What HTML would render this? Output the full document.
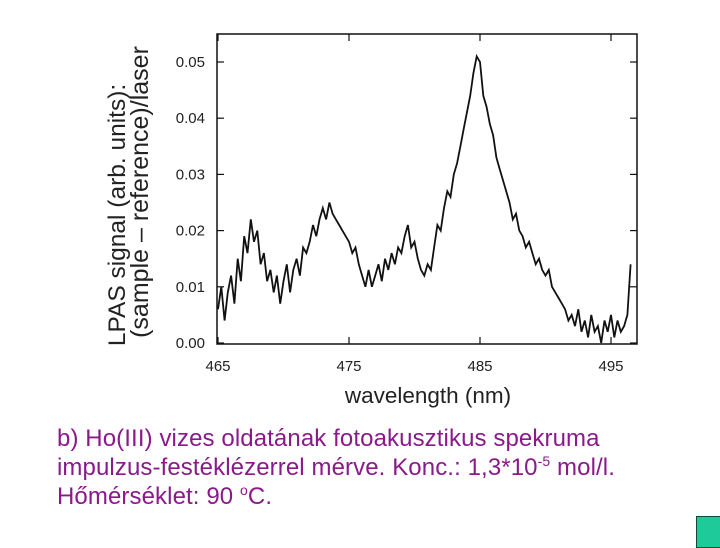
<!DOCTYPE html>
<html><head><meta charset="utf-8"><style>
body{margin:0;width:720px;height:540px;background:#fff;position:relative;overflow:hidden;font-family:"Liberation Sans",sans-serif}
#cap{position:absolute;left:57px;top:424px;font-size:24px;line-height:29px;color:#8a1a8a;white-space:nowrap;letter-spacing:0.1px}
#cap sup{font-size:14px;vertical-align:9px;line-height:0}
#sq{position:absolute;left:696px;top:516px;width:30px;height:30px;background:#1ec99a;border:1px solid #0b4a3a}
</style></head><body>
<svg id="chart" width="720" height="420" style="position:absolute;left:0;top:0" font-family="Liberation Sans, sans-serif">
<g id="axes"></g><g id="plot"></g>
<text x="428" y="403" font-size="22.5" text-anchor="middle" fill="#222">wavelength (nm)</text>
<text transform="translate(125,215) rotate(-90)" font-size="24.5" text-anchor="middle" fill="#222">LPAS signal  (arb. units):</text>
<text transform="translate(148,192) rotate(-90)" font-size="25" text-anchor="middle" fill="#222">(sample – reference)/laser</text>
</svg>
<div id="cap">b) Ho(III) vizes oldatának fotoakusztikus spekruma<br>impulzus-festéklézerrel mérve. Konc.: 1,3*10<sup>-5</sup> mol/l.<br>Hőmérséklet: 90 <sup>o</sup>C.</div>
<div id="sq"></div>
<script>
const xStart=465, xStep=0.25;
const signal=[
0.006,0.010,0.004,0.009, 0.012,0.007,0.015,0.011, 0.019,0.016,0.022,0.018,
0.020,0.014,0.016,0.011, 0.013,0.009,0.012,0.007, 0.011,0.014,0.009,0.013,
0.015,0.012,0.017,0.016, 0.018,0.021,0.019,0.022, 0.024,0.022,0.025,0.023,
0.022,0.021,0.020,0.019, 0.018,0.016,0.017,0.014, 0.012,0.010,0.013,0.010,
0.012,0.014,0.011,0.015, 0.013,0.016,0.014,0.017, 0.016,0.019,0.021,0.017,
0.018,0.015,0.013,0.012, 0.014,0.013,0.017,0.021, 0.020,0.024,0.027,0.026,
0.030,0.032,0.035,0.038, 0.041,0.044,0.048,0.051, 0.050,0.044,0.042,0.039,
0.037,0.033,0.031,0.029, 0.027,0.025,0.022,0.023, 0.020,0.019,0.017,0.018,
0.016,0.014,0.015,0.013, 0.012,0.013,0.010,0.009, 0.008,0.007,0.006,0.004,
0.005,0.003,0.006,0.002, 0.004,0.001,0.005,0.002, 0.003,0.000,0.004,0.002,
0.005,0.001,0.004,0.002, 0.003,0.005,0.014];
const xTicks=[465,475,485,495];
const yTicks=[0.00,0.01,0.02,0.03,0.04,0.05];
const yLabels=["0.00","0.01","0.02","0.03","0.04","0.05"];
const X=w=>218+(w-465)*13.1, Y=v=>343-v*5620;
const NS="http://www.w3.org/2000/svg";
const ax=document.getElementById('axes'), pl=document.getElementById('plot');
function mk(p,t,a){const e=document.createElementNS(NS,t);for(const k in a)e.setAttribute(k,a[k]);p.appendChild(e);return e;}
const fr=mk(ax,'rect',{x:217,y:34,width:420,height:310,fill:'none',stroke:'#111','stroke-width':1.5});


xTicks.forEach(t=>{
 const l=mk(ax,'line',{x1:X(t),x2:X(t),y1:344,y2:337,stroke:'#111','stroke-width':1.2});
 
 
 const l2=mk(ax,'line',{x1:X(t),x2:X(t),y1:34,y2:41,stroke:'#111','stroke-width':1.2});
 
 
 const tx=mk(ax,'text',{x:X(t),y:371,'font-size':15,'text-anchor':'middle',fill:'#222'});tx.textContent=t;
 
 
});
yTicks.forEach((t,i)=>{
 const l=mk(ax,'line',{x1:217,x2:224,y1:Y(t),y2:Y(t),stroke:'#111','stroke-width':1.2});
 
 
 const l2=mk(ax,'line',{x1:630,x2:637,y1:Y(t),y2:Y(t),stroke:'#111','stroke-width':1.2});
 
 
 const tx=mk(ax,'text',{x:205,y:Y(t)+5,'font-size':15,'text-anchor':'end',fill:'#222'});tx.textContent=yLabels[i];
 
 
});
const pts=signal.map((v,i)=>X(xStart+i*xStep).toFixed(1)+','+Y(v).toFixed(1)).join(' ');
const line=mk(pl,'polyline',{points:pts,fill:'none',stroke:'#111','stroke-width':1.8,'stroke-linejoin':'miter'});


</script>
</body></html>
